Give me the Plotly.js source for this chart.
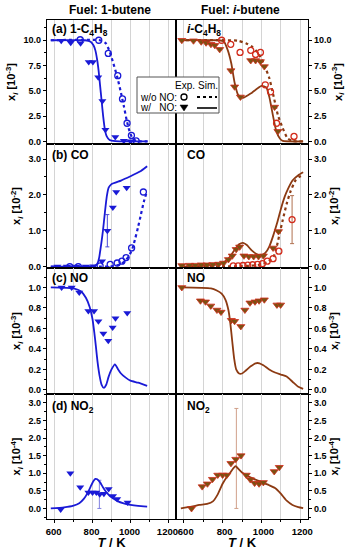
<!DOCTYPE html>
<html><head><meta charset="utf-8">
<script src="https://cdn.plot.ly/plotly-3.0.1.min.js"></script>
<style>html,body{margin:0;padding:0;background:#fff}#chart{width:353px;height:550px}</style>
</head><body><div id="chart"></div>
<script>
// ---------- DATA (T in K, mole fractions in panel units) ----------
// (a) fuel/species C4H8, units 1e-3
const a1_simNoNO_T = [580, 840, 870, 890, 910, 930, 950, 965, 980, 995, 1010, 1030, 1090];
const a1_simNoNO_x = [10, 10, 9.7, 8.9, 7.7, 6.4, 4.8, 3.5, 2.1, 1.0, 0.35, 0.05, 0];
const a1_simNO_T = [580, 760, 790, 805, 815, 825, 832, 840, 848, 856, 865, 875, 890, 920, 1000, 1090];
const a1_simNO_x = [10, 10, 9.85, 9.5, 9.0, 8.0, 7.0, 5.5, 4.0, 2.5, 1.2, 0.5, 0.15, 0.03, 0, 0];
const a1_expNoNO_T = [735, 833, 883, 933, 958, 982, 1005, 1030];
const a1_expNoNO_x = [10.05, 10.0, 8.7, 6.5, 4.2, 1.8, 0.6, 0.05];
const a1_expNO_T = [635, 685, 737, 780, 802, 830, 852, 868, 920, 965, 1000];
const a1_expNO_x = [9.95, 9.75, 9.7, 7.85, 7.85, 6.35, 4.0, 1.15, 0.45, 0.08, 0.03];

const a2_simNoNO_T = [580, 880, 920, 950, 975, 1000, 1020, 1040, 1060, 1085, 1110, 1135, 1160, 1215];
const a2_simNoNO_x = [10, 9.95, 9.7, 9.4, 8.9, 8.2, 7.3, 6.3, 4.7, 2.6, 1.3, 0.3, 0.05, 0];
const a2_simNO_T = [580, 780, 806, 827, 845, 862, 880, 905, 950, 1000, 1025, 1042, 1060, 1077, 1095, 1110, 1215];
const a2_simNO_x = [10, 10, 9.9, 9.0, 7.7, 5.8, 4.6, 4.3, 4.8, 5.5, 5.35, 4.3, 2.5, 1.0, 0.3, 0.05, 0];
const a2_expNoNO_T = [795, 842, 890, 945, 970, 995, 1020, 1047, 1078, 1168];
const a2_expNoNO_x = [10.0, 9.6, 8.8, 9.0, 8.6, 8.8, 5.6, 4.9, 1.8, 0.5];
const a2_expNO_T = [590, 650, 690, 715, 740, 760, 785, 843, 862, 892, 945, 970, 995, 1015, 1068, 1085];
const a2_expNO_x = [10.0, 9.95, 9.85, 9.75, 9.6, 9.5, 9.1, 7.0, 5.4, 4.4, 8.0, 8.0, 7.9, 7.4, 3.4, 1.0];

// (b) CO, units 1e-2
const b1_simNoNO_T = [580, 880, 920, 950, 975, 995, 1010, 1025, 1040, 1055, 1070, 1087];
const b1_simNoNO_x = [0, 0, 0.02, 0.07, 0.17, 0.32, 0.5, 0.78, 1.1, 1.45, 1.8, 2.1];
const b1_simNO_T = [580, 780, 810, 825, 835, 845, 855, 865, 875, 885, 900, 950, 1000, 1050, 1088];
const b1_simNO_x = [0, 0, 0.02, 0.08, 0.25, 0.6, 1.0, 1.5, 1.95, 2.2, 2.3, 2.4, 2.52, 2.65, 2.8];
const b1_expNoNO_T = [680, 725, 840, 893, 930, 955, 977, 1006, 1068];
const b1_expNoNO_x = [0, 0, 0.02, 0.06, 0.1, 0.15, 0.25, 0.52, 2.08];
const b1_expNO_T = [615, 665, 715, 765, 805, 850, 878, 907, 925, 980];
const b1_expNO_x = [0, 0, 0, 0, 0.01, 0.15, 1.0, 1.65, 2.08, 2.2];

const b2_simNoNO_T = [580, 900, 960, 1000, 1030, 1050, 1065, 1080, 1095, 1110, 1130, 1150, 1175, 1195, 1215];
const b2_simNoNO_x = [0, 0.01, 0.03, 0.06, 0.12, 0.2, 0.3, 0.58, 0.95, 1.3, 1.75, 2.1, 2.4, 2.5, 2.56];
const b2_simNO_T = [580, 700, 760, 800, 830, 860, 885, 905, 925, 950, 975, 1000, 1020, 1040, 1060, 1080, 1100, 1120, 1140, 1160, 1190, 1215];
const b2_simNO_x = [0, 0.02, 0.05, 0.1, 0.22, 0.45, 0.62, 0.66, 0.6, 0.45, 0.35, 0.32, 0.38, 0.55, 0.85, 1.2, 1.6, 1.95, 2.2, 2.4, 2.55, 2.63];
const b2_expNoNO_T = [855, 880, 905, 930, 955, 980, 1005, 1030, 1060, 1090, 1158];
const b2_expNoNO_x = [0.02, 0.02, 0.03, 0.04, 0.05, 0.06, 0.08, 0.15, 0.22, 0.43, 1.31];
const b2_expNO_T = [590, 630, 660, 690, 720, 750, 780, 805, 830, 850, 870, 888, 910, 935, 960, 985, 1010, 1060, 1088];
const b2_expNO_x = [0.03, 0.04, 0.04, 0.05, 0.05, 0.06, 0.07, 0.1, 0.2, 0.3, 0.48, 0.55, 0.3, 0.28, 0.28, 0.28, 0.3, 0.52, 0.98];

// (c) NO, units 1e-3
const c1_simNO_T = [580, 700, 740, 765, 785, 800, 810, 818, 826, 836, 848, 860, 872, 885, 900, 918, 935, 950, 975, 1000, 1040, 1088];
const c1_simNO_x = [1.0, 0.99, 0.96, 0.9, 0.81, 0.69, 0.55, 0.42, 0.28, 0.15, 0.05, 0.02, 0.05, 0.13, 0.2, 0.25, 0.2, 0.16, 0.12, 0.09, 0.07, 0.04];
const c1_expNO_T = [637, 690, 730, 778, 808, 831, 857, 883, 906, 921, 983];
const c1_expNO_x = [1.0, 1.0, 0.95, 0.77, 0.77, 0.67, 0.55, 0.48, 0.61, 0.70, 0.75];

const c2_simNO_T = [585, 740, 770, 795, 815, 830, 840, 850, 860, 870, 885, 900, 920, 945, 970, 990, 1010, 1040, 1070, 1100, 1130, 1160, 1190, 1215];
const c2_simNO_x = [1.0, 0.99, 0.97, 0.94, 0.88, 0.78, 0.65, 0.47, 0.3, 0.2, 0.16, 0.16, 0.19, 0.23, 0.26, 0.26, 0.24, 0.2, 0.17, 0.15, 0.13, 0.08, 0.03, 0.01];
const c2_expNO_T = [590, 686, 712, 739, 771, 792, 845, 862, 894, 915, 941, 967, 988, 1015, 1080, 1099];
const c2_expNO_x = [1.0, 0.87, 0.86, 0.82, 0.78, 0.76, 0.68, 0.67, 0.62, 0.78, 0.85, 0.86, 0.87, 0.88, 0.83, 0.83];

// (d) NO2, units 1e-4
const d1_simNO_T = [580, 650, 700, 730, 755, 775, 790, 805, 815, 825, 840, 855, 870, 890, 910, 935, 960, 1000, 1040, 1088];
const d1_simNO_x = [0.0, 0.03, 0.08, 0.15, 0.28, 0.45, 0.62, 0.78, 0.84, 0.83, 0.74, 0.6, 0.48, 0.36, 0.28, 0.2, 0.15, 0.1, 0.07, 0.05];
const d1_expNO_T = [632, 683, 735, 778, 800, 820, 838, 860, 885, 908, 930, 985];
const d1_expNO_x = [-0.03, 1.0, 0.6, 0.45, 0.45, 0.45, 0.4, 0.42, 0.55, 0.35, 0.27, 0.17];

const d2_simNO_T = [585, 640, 680, 720, 750, 775, 800, 820, 840, 855, 868, 880, 900, 930, 960, 1000, 1040, 1070, 1100, 1130, 1160, 1190, 1215];
const d2_simNO_x = [0.0, 0.05, 0.1, 0.13, 0.2, 0.4, 0.7, 0.88, 1.02, 1.14, 1.2, 1.13, 1.02, 0.92, 0.84, 0.75, 0.66, 0.58, 0.42, 0.22, 0.1, 0.04, 0.01];
const d2_expNO_T = [640, 695, 722, 748, 775, 800, 822, 843, 868, 895, 922, 943, 965, 988, 1010, 1066, 1092];
const d2_expNO_x = [0.0, 0.62, 0.7, 0.83, 0.95, 0.95, 0.95, 1.28, 1.4, 1.5, 0.95, 0.82, 0.72, 0.7, 0.74, 1.05, 1.17];

// error bars: [T], [x], [+/-]
const b1_err_T = [878], b1_err_x = [1.0], b1_err_e = [0.45];
const b2_err_T = [1158], b2_err_x = [1.31], b2_err_e = [0.67];
const d1_err_T = [836], d1_err_x = [0.4], d1_err_e = [0.4];
const d2_err_T = [871], d2_err_x = [1.42], d2_err_e = [1.42];

// axis / label text
const colTitles = ['<b>Fuel: 1-butene</b>', '<b>Fuel: <i>i</i>-butene</b>'];
const panelLabels = [
  ['<b>(a) 1-C<sub>4</sub>H<sub>8</sub></b>', '<b><i>i</i>-C<sub>4</sub>H<sub>8</sub></b>'],
  ['<b>(b) CO</b>', '<b>CO</b>'],
  ['<b>(c) NO</b>', '<b>NO</b>'],
  ['<b>(d) NO<sub>2</sub></b>', '<b>NO<sub>2</sub></b>']
];
const yTitles = ['<b>x<sub><i>i</i></sub> [10<sup>-3</sup>]</b>', '<b>x<sub><i>i</i></sub> [10<sup>-2</sup>]</b>',
                 '<b>x<sub><i>i</i></sub> [10<sup>-3</sup>]</b>', '<b>x<sub><i>i</i></sub> [10<sup>-4</sup>]</b>'];
const yRanges = [[-0.25, 12], [-0.04, 3.42], [-0.04, 1.19], [-0.3, 3.25]];
const yDticks = [2.5, 1, 0.2, 0.5];
const xTitle = '<b><i>T</i> / K</b>';

// ---------- STYLE ----------
const BLUE = '#1a1ad6';
const BROWN = '#8c3a12';
const RED = '#d22c1c';
const TRI = '#7a5212';
const FONT = 'Arial, "Liberation Sans", sans-serif';

const W = 353, H = 550, ML = 47, MR = 45, MT = 20, MB = 31;
const PW = W - ML - MR, PH = H - MT - MB;
const px2x = p => (p - ML) / PW;
const px2y = p => (H - MB - p) / PH;
const colDom = [[0, px2x(176)], [px2x(176), 1]];
const rowPx = [[20, 144], [144, 268], [268, 394], [394, 519]];

const traces = [];
function idx(r, c) { return r * 2 + c + 1; }
function ax(n) { return n === 1 ? '' : String(n); }

function addLine(r, c, T, X, color, dash) {
  const n = idx(r, c);
  traces.push({x: T, y: X, xaxis: 'x' + ax(n), yaxis: 'y' + ax(n), mode: 'lines',
    line: {color: color, width: dash === 'dot' ? 2.2 : 1.8, dash: dash, shape: 'spline', smoothing: 0.5}, hoverinfo: 'skip'});
}
function addMarks(r, c, T, X, kind, color) {
  const n = idx(r, c);
  const m = kind === 'circ'
    ? {symbol: 'circle-open', size: 6, color: color, line: {color: color, width: 1.3}}
    : {symbol: 'triangle-down', size: 7, color: color, line: {color: c === 1 ? RED : color, width: c === 1 ? 0.8 : 0}};
  traces.push({x: T, y: X, xaxis: 'x' + ax(n), yaxis: 'y' + ax(n), mode: 'markers', marker: m, hoverinfo: 'skip'});
}
function addErr(r, c, T, X, E, color) {
  const n = idx(r, c);
  traces.push({x: T, y: X, xaxis: 'x' + ax(n), yaxis: 'y' + ax(n), mode: 'markers',
    marker: {size: 1, color: 'rgba(0,0,0,0)'},
    error_y: {type: 'data', array: E, visible: true, color: color, thickness: 1, width: 2}, hoverinfo: 'skip'});
}

// errors first (behind)
addErr(1, 0, b1_err_T, b1_err_x, b1_err_e, '#4a4ad8');
addErr(1, 1, b2_err_T, b2_err_x, b2_err_e, '#b07050');
addErr(3, 0, d1_err_T, d1_err_x, d1_err_e, '#8080e0');
addErr(3, 1, d2_err_T, d2_err_x, d2_err_e, '#d0a08a');

// (a)
addLine(0, 0, a1_simNoNO_T, a1_simNoNO_x, BLUE, 'dot');
addLine(0, 0, a1_simNO_T, a1_simNO_x, BLUE, 'solid');
addMarks(0, 0, a1_expNoNO_T, a1_expNoNO_x, 'circ', BLUE);
addMarks(0, 0, a1_expNO_T, a1_expNO_x, 'tri', BLUE);
addLine(0, 1, a2_simNoNO_T, a2_simNoNO_x, BROWN, 'dot');
addLine(0, 1, a2_simNO_T, a2_simNO_x, BROWN, 'solid');
addMarks(0, 1, a2_expNoNO_T, a2_expNoNO_x, 'circ', RED);
addMarks(0, 1, a2_expNO_T, a2_expNO_x, 'tri', TRI);
// (b)
addLine(1, 0, b1_simNoNO_T, b1_simNoNO_x, BLUE, 'dot');
addLine(1, 0, b1_simNO_T, b1_simNO_x, BLUE, 'solid');
addMarks(1, 0, b1_expNoNO_T, b1_expNoNO_x, 'circ', BLUE);
addMarks(1, 0, b1_expNO_T, b1_expNO_x, 'tri', BLUE);
addLine(1, 1, b2_simNoNO_T, b2_simNoNO_x, BROWN, 'dot');
addLine(1, 1, b2_simNO_T, b2_simNO_x, BROWN, 'solid');
addMarks(1, 1, b2_expNoNO_T, b2_expNoNO_x, 'circ', RED);
addMarks(1, 1, b2_expNO_T, b2_expNO_x, 'tri', TRI);
// (c)
addLine(2, 0, c1_simNO_T, c1_simNO_x, BLUE, 'solid');
addMarks(2, 0, c1_expNO_T, c1_expNO_x, 'tri', BLUE);
addLine(2, 1, c2_simNO_T, c2_simNO_x, BROWN, 'solid');
addMarks(2, 1, c2_expNO_T, c2_expNO_x, 'tri', TRI);
// (d)
addLine(3, 0, d1_simNO_T, d1_simNO_x, BLUE, 'solid');
addMarks(3, 0, d1_expNO_T, d1_expNO_x, 'tri', BLUE);
addLine(3, 1, d2_simNO_T, d2_simNO_x, BROWN, 'solid');
addMarks(3, 1, d2_expNO_T, d2_expNO_x, 'tri', TRI);

const layout = {
  width: W, height: H, margin: {l: ML, r: MR, t: MT, b: MB},
  paper_bgcolor: '#fff', plot_bgcolor: '#fff', showlegend: false,
  font: {family: FONT, color: '#000'},
  annotations: [], shapes: []
};

for (let r = 0; r < 4; r++) {
  for (let c = 0; c < 2; c++) {
    const n = idx(r, c);
    const bottom = r === 3;
    const xa = {
      domain: colDom[c], anchor: 'y' + ax(n), range: [560, 1240],
      tick0: 600, dtick: 200, showgrid: true, gridcolor: '#d4d4d4', gridwidth: 1,
      minor: {dtick: 100, showgrid: true, gridcolor: '#d4d4d4', ticks: bottom ? 'outside' : '', ticklen: 2, tickcolor: '#000'},
      showline: true, mirror: true, linecolor: '#000', linewidth: 1.2,
      ticks: bottom ? 'outside' : '', ticklen: 3, tickcolor: '#000',
      showticklabels: bottom, tickfont: {size: 9.5, weight: 'bold', family: FONT},
      ticklabelshift: c === 0 ? -1 : 2,
      zeroline: false, automargin: false
    };
    if (bottom) xa.title = {text: xTitle, font: {size: 13, family: FONT}, standoff: 1};
    layout['xaxis' + ax(n)] = xa;
    layout['yaxis' + ax(n)] = {
      domain: [px2y(rowPx[r][1]), px2y(rowPx[r][0])], anchor: 'x' + ax(n),
      side: c === 0 ? 'left' : 'right', range: yRanges[r], tick0: 0, dtick: yDticks[r],
      tickformat: '.1f', showgrid: false, zeroline: false,
      showline: true, mirror: true, linecolor: '#000', linewidth: 1.2,
      ticks: 'outside', ticklen: 3, tickcolor: '#000',
      minor: {dtick: yDticks[r] / 2, ticks: 'outside', ticklen: 2, tickcolor: '#000'},
      tickfont: {size: 9, weight: 'bold', family: FONT}, automargin: false,
      title: {text: yTitles[r], font: {size: 11, family: FONT}, standoff: c === 0 ? 5 : 3}
    };
  }
}

// column titles
layout.annotations.push({text: colTitles[0], x: px2x(110), y: px2y(10), xref: 'paper', yref: 'paper', showarrow: false, xanchor: 'center', yanchor: 'middle', font: {size: 12, family: FONT}});
layout.annotations.push({text: colTitles[1], x: px2x(240), y: px2y(10), xref: 'paper', yref: 'paper', showarrow: false, xanchor: 'center', yanchor: 'middle', font: {size: 12, family: FONT}});
// panel labels
const labY = [30, 155, 278, 407];
for (let r = 0; r < 4; r++) {
  layout.annotations.push({text: panelLabels[r][0], x: px2x(50), y: px2y(labY[r]), xref: 'paper', yref: 'paper', showarrow: false, xanchor: 'left', yanchor: 'middle', font: {size: 12, family: FONT}});
  layout.annotations.push({text: panelLabels[r][1], x: px2x(185), y: px2y(labY[r]), xref: 'paper', yref: 'paper', showarrow: false, xanchor: 'left', yanchor: 'middle', font: {size: 12, family: FONT}});
}

// legend box (custom layout)
layout.shapes.push({type: 'rect', xref: 'paper', yref: 'paper', x0: px2x(137), x1: px2x(219), y0: px2y(113), y1: px2y(77), line: {color: '#555', width: 1}, fillcolor: '#fff', layer: 'above'});
const lgFont = {size: 10, family: FONT, color: '#000'};
layout.annotations.push({text: 'Exp.', x: px2x(185), y: px2y(85), xref: 'paper', yref: 'paper', showarrow: false, xanchor: 'center', yanchor: 'middle', font: lgFont});
layout.annotations.push({text: 'Sim.', x: px2x(208), y: px2y(85), xref: 'paper', yref: 'paper', showarrow: false, xanchor: 'center', yanchor: 'middle', font: lgFont});
layout.annotations.push({text: 'w/o NO:', x: px2x(138), y: px2y(97), xref: 'paper', yref: 'paper', showarrow: false, xanchor: 'left', yanchor: 'middle', font: lgFont});
layout.annotations.push({text: 'w/&nbsp;&nbsp;&nbsp;NO:', x: px2x(138), y: px2y(108), xref: 'paper', yref: 'paper', showarrow: false, xanchor: 'left', yanchor: 'middle', font: lgFont});
layout.shapes.push({type: 'circle', xref: 'paper', yref: 'paper', xsizemode: 'pixel', ysizemode: 'pixel', xanchor: px2x(184), yanchor: px2y(97), x0: -3, x1: 3, y0: -3, y1: 3, line: {color: '#000', width: 1.3}, layer: 'above'});
layout.shapes.push({type: 'path', xref: 'paper', yref: 'paper', xsizemode: 'pixel', ysizemode: 'pixel', xanchor: px2x(184), yanchor: px2y(108), path: 'M -4 3 L 4 3 L 0 -3 Z', fillcolor: '#000', line: {color: '#000', width: 0.5}, layer: 'above'});
layout.shapes.push({type: 'line', xref: 'paper', yref: 'paper', x0: px2x(197), x1: px2x(217), y0: px2y(97), y1: px2y(97), line: {color: '#000', width: 2, dash: 'dot'}, layer: 'above'});
layout.shapes.push({type: 'line', xref: 'paper', yref: 'paper', x0: px2x(197), x1: px2x(217), y0: px2y(108), y1: px2y(108), line: {color: '#000', width: 1.6}, layer: 'above'});

Plotly.newPlot('chart', traces, layout, {staticPlot: true, displayModeBar: false});
</script></body></html>
